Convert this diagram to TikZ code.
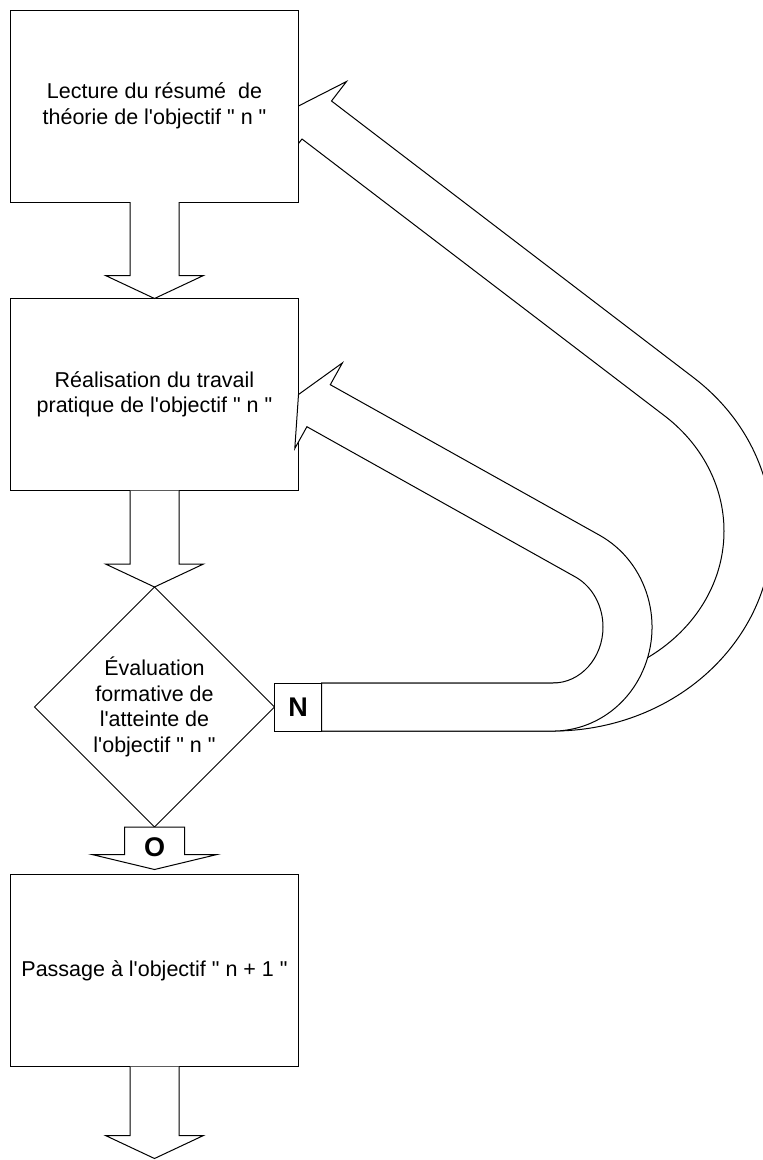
\documentclass[tikz,border=0pt]{standalone}
\usepackage{fontspec}
\newfontfamily\arial{Liberation Sans}
\usepackage{tikz}
\usetikzlibrary{shapes.geometric}
\usetikzlibrary{calc}
\pgfdeclarelayer{background}
\pgfsetlayers{background,main}

\tikzset{
  boite/.style={rectangle, draw, fill=white, line width=1pt, outer sep=0pt, minimum width=288pt, minimum height=192pt, align=center, font=\arial\fontsize{21.5}{25.5}\selectfont},
  losange/.style={diamond, draw, fill=white, line width=1pt, outer sep=0pt, inner sep=0pt, minimum width=240pt, minimum height=240pt, align=center, font=\arial\fontsize{21.5}{25.5}\selectfont},
  etiquette/.style={rectangle, draw, fill=white, line width=1pt, outer sep=0pt, inner sep=0pt, minimum width=47pt, minimum height=48pt},
  fleche/.style={draw, fill=white, line width=1pt},
  lettre/.style={font=\arial\fontsize{27}{27}\bfseries\selectfont}
}

\begin{document}
\begin{tikzpicture}[x=1pt,y=-1pt]
\coordinate (coinHG) at (0,0);
\coordinate (coinBD) at (763,1160);
\useasboundingbox (coinHG) rectangle (coinBD);
\clip (coinHG) rectangle (coinBD);

%%% Boites
\node[boite] (lecture) at (154.5,106) {Lecture du résumé\ \ de\\théorie de l'objectif " n "};
\node[boite] (pratique) at (154.5,394.5) {Réalisation du travail\\pratique de l'objectif " n "};
\node[losange] (evaluation) at (154.5,707) {Évaluation\\formative de\\l'atteinte de\\l'objectif " n "};
\node[boite] (passage) at (154.5,970.5) {Passage à l'objectif " n + 1 "};

%% N
\node[etiquette, lettre, anchor=west] (non) at (evaluation.east) {N};

%%% Fleches vers le bas
\draw[fleche] ($(lecture.south)+(-24.5,0)$) |- ($(pratique.north)+(-49,-23)$) -- (pratique.north) -- ($(pratique.north)+(49,-23)$) -| ($(lecture.south)+(24.5,0)$);
\draw[fleche] ($(pratique.south)+(-24.5,0)$) |- ($(evaluation.north)+(-49,-23)$) -- (evaluation.north) -- ($(evaluation.north)+(49,-23)$) -| ($(pratique.south)+(24.5,0)$);

%% O
\coordinate (pointeO) at ($(passage.north)+(0,-5)$);
\draw[fleche] ($(evaluation.south)+(-30,0)$) |- ($(pointeO)+(-62.5,-15)$) -- (pointeO) -- ($(pointeO)+(62.5,-15)$) -| ($(evaluation.south)+(30,0)$) -- cycle;
\node[lettre] (oui) at ($(evaluation.south)+(0,20)$) {O};

%% sortie
\coordinate (sortie) at ($(passage.south)+(0,92)$);
\draw[fleche] ($(passage.south)+(-24.5,0)$) |- ($(sortie)+(-49,-23)$) -- (sortie) -- ($(sortie)+(49,-23)$) -| ($(passage.south)+(24.5,0)$);

%%% Retour vers la theorie (sous la boite)
\begin{pgfonlayer}{background}
\draw[fleche] (non.north east) -- (553,683) arc[start angle=90, end angle=-50, x radius=171, y radius=152]
  -- ($(lecture.east)+(3.5,33)$) -- ($(lecture.east)+(-12,53)$) -- (lecture.east) -- ($(lecture.east)+(48,-24.5)$) -- ($(lecture.east)+(33,-5)$)
  -- (693.8,377.8) arc[start angle=-50, end angle=90, x radius=219, y radius=200] -- (non.south east) -- cycle;
\end{pgfonlayer}

%%% Retour vers le travail pratique
\draw[fleche] (non.north east) -- (553,683) arc[start angle=90, end angle=-62, x radius=50, y radius=56]
  -- ($(pratique.east)+(8.4,32.2)$) -- ($(pratique.east)+(-3.7,54)$) -- (pratique.east) -- ($(pratique.east)+(43.9,-31.6)$) -- ($(pratique.east)+(31.8,-9.8)$)
  -- (599.5,535.2) arc[start angle=-62, end angle=90, x radius=99, y radius=104] -- (non.south east) -- cycle;

\end{tikzpicture}
\end{document}
